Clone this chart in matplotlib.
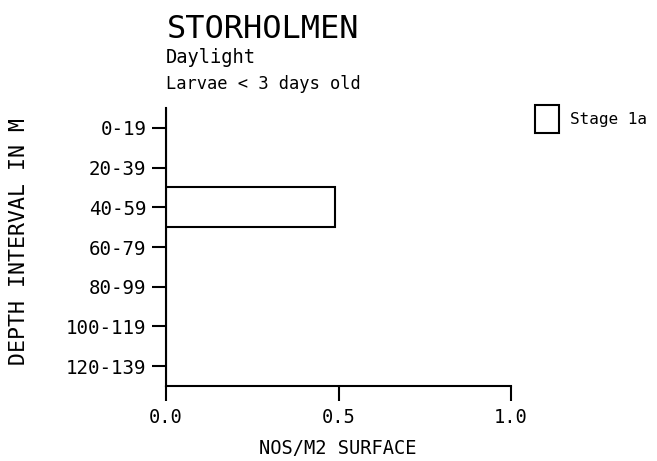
import matplotlib
matplotlib.use('Agg')
import matplotlib.pyplot as plt
from matplotlib.patches import Patch

# depth intervals and density per stage
depths = ['0-19', '20-39', '40-59', '60-79', '80-99', '100-119', '120-139']
stage_1a = [0.0, 0.0, 0.49, 0.0, 0.0, 0.0, 0.0]
xticks = [0.0, 0.5, 1.0]
xtick_labels = ['0.0', '0.5', '1.0']

W, H = 657, 461
plt.rcParams['font.family'] = ['DejaVu Sans Mono', 'DejaVu Sans']

fig = plt.figure(figsize=(W / 100, H / 100), dpi=100)
# axes box in pixels: left 166, right 511, top 108, bottom 386
ax = fig.add_axes([166 / W, 1 - 386 / H, 345 / W, 278 / H])

ypos = list(range(len(depths)))
ax.barh(ypos, stage_1a, height=1.0, color='white', edgecolor='black', linewidth=1.5)

ax.set_ylim(len(depths) - 0.5, -0.5)
ax.set_xlim(0, 1.0)
ax.set_yticks(ypos)
ax.set_yticklabels(depths, fontsize=13.8)
ax.set_xticks(xticks)
ax.set_xticklabels(xtick_labels, fontsize=13.5)

for s in ['top', 'right']:
    ax.spines[s].set_visible(False)
for s in ['left', 'bottom']:
    ax.spines[s].set_linewidth(1.5)
ax.tick_params(axis='y', direction='out', length=10, width=1.5, pad=4)
ax.tick_params(axis='x', direction='out', length=11, width=1.5, pad=5)

ax.set_xlabel('NOS/M2 SURFACE', fontsize=13.5)
ax.xaxis.set_label_coords(338 / W, 1 - 448 / H, transform=fig.transFigure)
ax.xaxis.label.set_va('center')
ax.set_ylabel('DEPTH INTERVAL IN M', fontsize=15.5)
ax.yaxis.set_label_coords(19 / W, 1 - 241 / H, transform=fig.transFigure)
ax.yaxis.label.set_va('center')

# titles
fig.text(167 / W, 1 - 38 / H, 'STORHOLMEN', fontsize=23, va='baseline')
fig.text(166 / W, 1 - 63 / H, 'Daylight', fontsize=13.5, va='baseline')
fig.text(166 / W, 1 - 89 / H, 'Larvae < 3 days old', fontsize=12.3, va='baseline')

handles = [Patch(facecolor='white', edgecolor='black', linewidth=1.5, label='Stage 1a')]
fig.legend(handles=handles, loc='upper left', bbox_to_anchor=(535 / W, 1 - 105 / H),
           frameon=False, fontsize=11.5, handlelength=1.5, handleheight=2.3,
           borderpad=0, borderaxespad=0, handletextpad=0.7)

fig.savefig('out.png', dpi=100)
